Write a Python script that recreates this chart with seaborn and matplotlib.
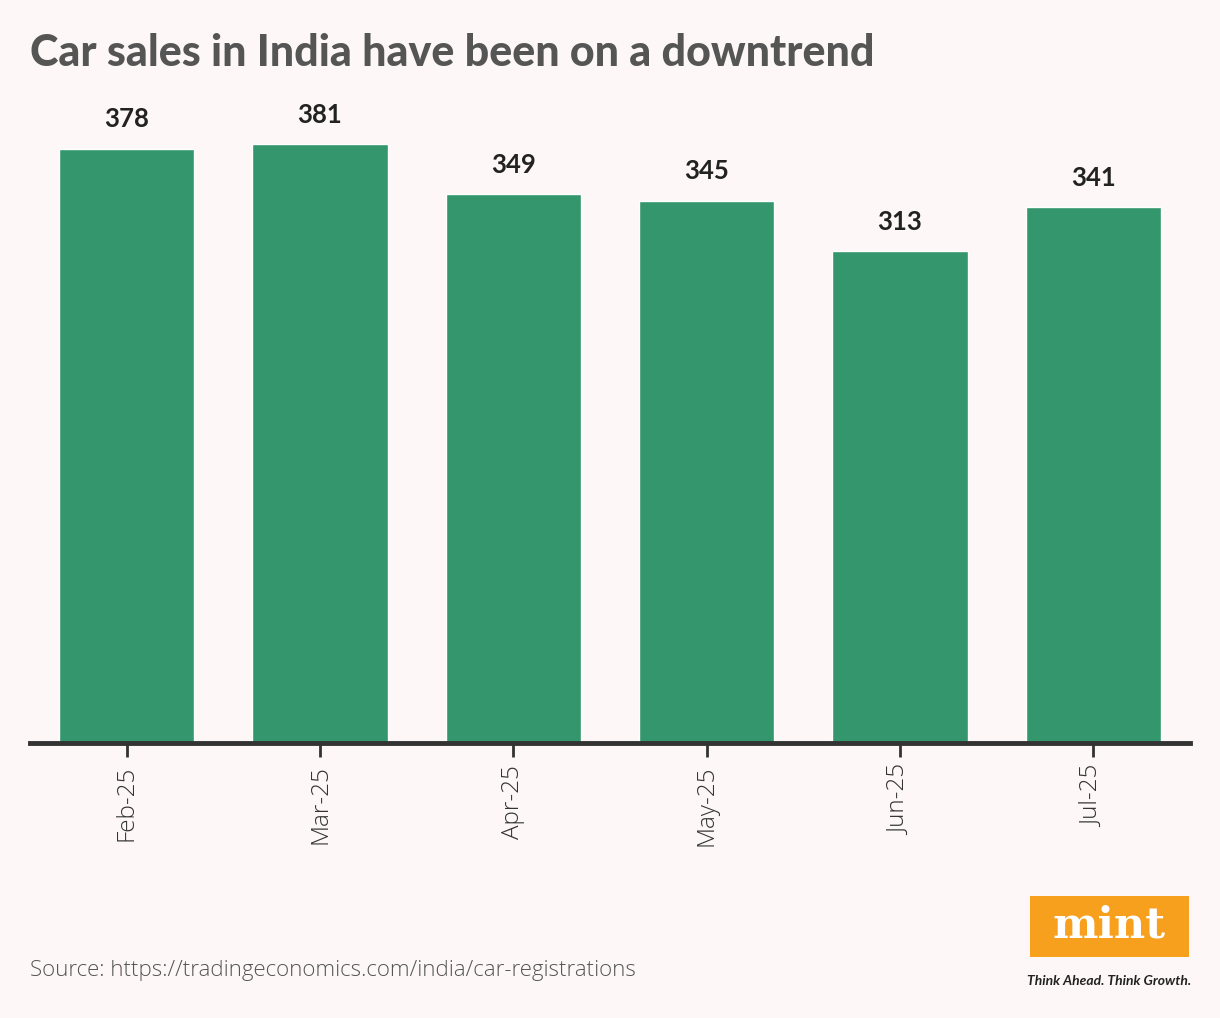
import numpy as np
import pandas as pd
import matplotlib.pyplot as plt
import matplotlib.patches as patches
import seaborn as sns

# Data
months = ["Feb-25", "Mar-25", "Apr-25", "May-25", "Jun-25", "Jul-25"]
sales = [378, 381, 349, 345, 313, 341]

bg = "#FDF8F7"
bar_color = "#33966C"

sns.set_theme(style="white")
plt.rcParams["font.family"] = ["Lato", "DejaVu Sans"]

df = pd.DataFrame({"month": months, "sales": sales})

fig = plt.figure(figsize=(12.2, 10.18), dpi=100, facecolor=bg)
ax = fig.add_axes([0.0246, 0.2701, 0.9508, 0.6317])
ax.set_facecolor(bg)

sns.barplot(data=df, x="month", y="sales", color=bar_color, saturation=1,
            width=0.70, ax=ax)

ax.set_xlim(-0.5, 5.5)
ax.set_ylim(0, 409)
ax.set(xlabel="", ylabel="")
ax.set_yticks([])

for i, v in enumerate(sales):
    ax.text(i, v + 11, str(v), ha="center", va="bottom", fontsize=18.5,
            fontweight="bold", color="#222222")

for side in ["top", "left", "right"]:
    ax.spines[side].set_visible(False)
ax.spines["bottom"].set_color("#333333")
ax.spines["bottom"].set_linewidth(3.5)
ax.tick_params(axis="x", bottom=True, length=10, width=2, color="#333333",
               labelsize=17.5, labelcolor="#333333", rotation=90, pad=6)
for lbl in ax.get_xticklabels():
    lbl.set_fontfamily(["Open Sans", "DejaVu Sans"])
    lbl.set_fontweight("light")

# Title and source
fig.text(0.025, 0.948, "Car sales in India have been on a downtrend",
         fontsize=31, fontweight="black", color="#555555", ha="left", va="center")
fig.text(0.025, 0.047, "Source: https://tradingeconomics.com/india/car-registrations",
         fontsize=16, fontweight="light", family=["Open Sans", "DejaVu Sans"],
         color="#555555", ha="left", va="center")

# mint logo
logo = patches.Rectangle((1030 / 1220, 1 - 957 / 1018), 159 / 1220, 61 / 1018,
                         transform=fig.transFigure, facecolor="#F7A01E",
                         edgecolor="none")
fig.patches.append(logo)
fig.text(1109 / 1220, 1 - 926 / 1018, "mint", fontsize=31, fontweight="heavy",
         family=["DejaVu Serif"], color="white", ha="center", va="center")
fig.text(1109 / 1220, 1 - 981 / 1018, "Think Ahead. Think Growth.", fontsize=10,
         fontweight="bold", style="italic", color="#222222", ha="center", va="center")

fig.savefig("out.png", dpi=100, facecolor=bg)
